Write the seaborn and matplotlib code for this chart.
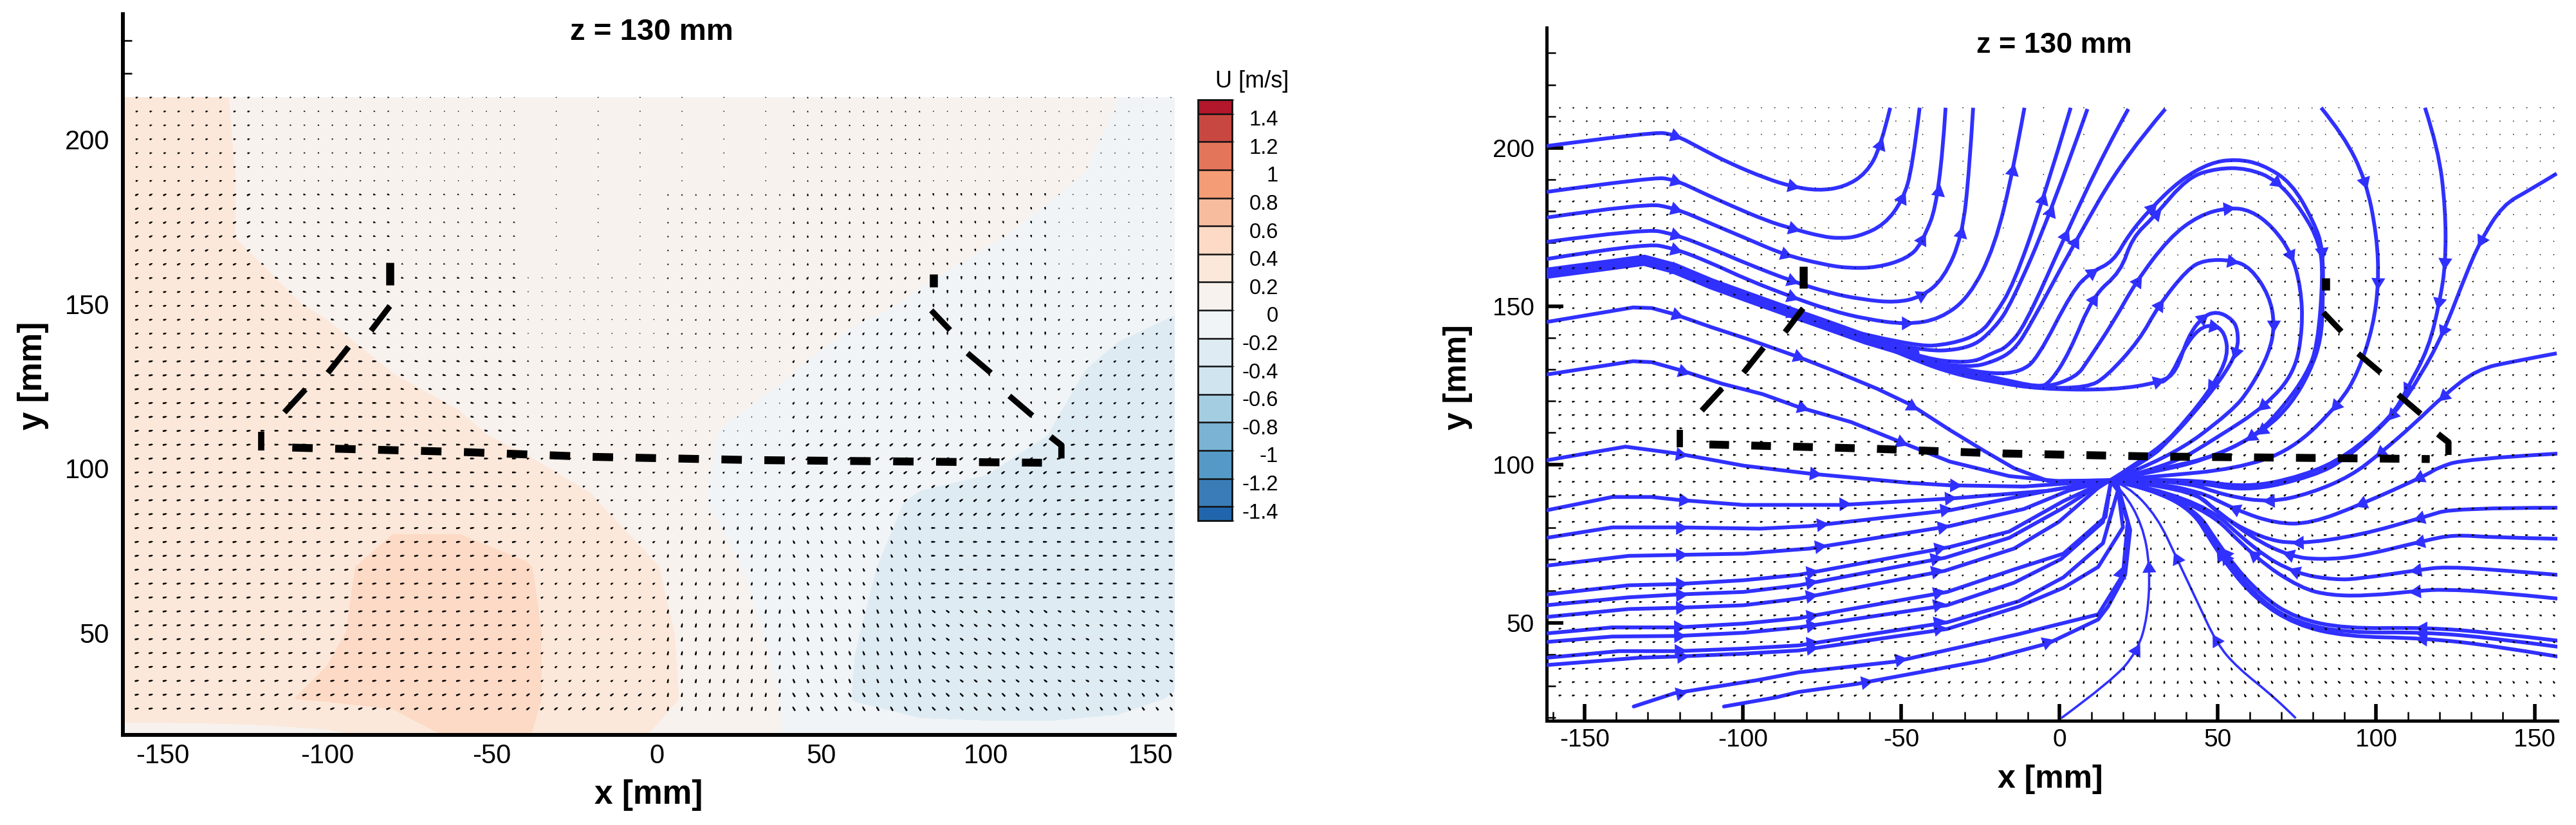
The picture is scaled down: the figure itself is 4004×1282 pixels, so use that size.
import numpy as np
import pandas as pd
import seaborn as sns
import matplotlib.pyplot as plt
from matplotlib.colors import BoundaryNorm, ListedColormap
from matplotlib.patches import PathPatch
from matplotlib.path import Path

W, H = 4004, 1282

# --- U field (rows top to bottom)
grid_x = [-162, -140, -120, -100, -80, -60, -40, -20, 0, 20, 40, 60, 80, 100, 120, 140, 157.3]
grid_y = [212.7, 190, 170, 150, 130, 110, 90, 70, 50, 30, 19]
u_212 = [.30, .22, .18, .15, .14, .13, .12, .12, .10, .10, .09, .08, .07, .05, .03, .0, -.08]
u_190 = [.30, .23, .18, .15, .14, .12, .11, .10, .09, .08, .07, .06, .05, .04, .02, -.02, -.08]
u_170 = [.31, .23, .18, .16, .14, .12, .11, .09, .07, .06, .05, .04, .03, .01, -.03, -.07, -.12]
u_150 = [.33, .28, .23, .18, .15, .12, .10, .08, .06, .05, .03, .02, -.01, -.06, -.10, -.16, -.19]
u_130 = [.34, .32, .30, .26, .195, .15, .11, .08, .05, .03, .005, -.04, -.08, -.11, -.17, -.23, -.25]
u_110 = [.35, .34, .33, .31, .27, .23, .16, .11, .05, -.005, -.04, -.08, -.10, -.14, -.205, -.24, -.25]
u_90 = [.36, .36, .36, .36, .36, .34, .30, .212, .09, -.03, -.08, -.14, -.22, -.24, -.25, -.26, -.26]
u_70 = [.36, .36, .36, .37, .44, .46, .41, .32, .205, .04, -.10, -.18, -.24, -.26, -.27, -.27, -.27]
u_50 = [.36, .36, .37, .38, .45, .47, .42, .34, .24, .09, -.06, -.195, -.26, -.28, -.28, -.28, -.28]
u_30 = [.35, .36, .38, .42, .46, .47, .42, .34, .25, .10, -.015, -.21, -.26, -.28, -.28, -.25, -.19]
u_19 = [.12, .12, .13, .16, .25, .45, .41, .30, .18, .08, -.01, -.10, -.15, -.15, -.15, -.14, -.14]

levels = [-1.5, -1.4, -1.2, -1, -.8, -.6, -.4, -.2, 0, .2, .4, .6, .8, 1, 1.2, 1.4, 1.5]
band_colors = ['#2166ac', '#3a7db6', '#559ac6', '#7ab3d4', '#a5cde2', '#cfe4ef', '#deebf3', '#f0f4f7',
               '#f7f2ee', '#fbe8da', '#fddac5', '#f7bb9e', '#f39c75', '#e3755a', '#c94741', '#b2172b']
cbar_ticks = [1.4, 1.2, 1, .8, .6, .4, .2, 0, -.2, -.4, -.6, -.8, -1, -1.2, -1.4]
cbar_labels = ['1.4', '1.2', '1', '0.8', '0.6', '0.4', '0.2', '0', '-0.2', '-0.4', '-0.6', '-0.8', '-1', '-1.2', '-1.4']

# --- coarse vector readings in pixels, one value per block of the measurement grid
vec_edges_x = [-120, -80, -40, 0, 40, 80, 120]
vec_edges_y = [185, 160, 135, 110, 85, 60, 35]
vec_u_r0 = [3, 2, 1, 0, 0, 0, 0, 1]
vec_v_r0 = [1, 0, 0, 0, 0, 2, 1, 1]
vec_u_r1 = [4, 3, 2, 0, 0, 0, 1, 1]
vec_v_r1 = [2, -1, -1, 0, 2, 3, -3, -1]
vec_u_r2 = [4, 4, 3, 1, 1, 2, 0, 2]
vec_v_r2 = [1, -1, -1, -1, 2, 3, -4, 2]
vec_u_r3 = [5, 5, 4, 2, 1, 2, 1, 3]
vec_v_r3 = [1, 0, -1, -1, 1, 3, -3, 2]
vec_u_r4 = [5, 5, 5, 3, 2, 4, 4, 5]
vec_v_r4 = [1, 0, 0, 1, 2, 3, 3, 1]
vec_u_r5 = [5, 5, 5, 3, 1, -2, 5, 5]
vec_v_r5 = [1, 1, 1, 2, 4, 4, 0, 0]
vec_u_r6 = [5, 5, 5, 3, 1, -2, -4, -4]
vec_v_r6 = [1, 1, 1, 2, 5, 5, 3, 2]
vec_u_r7 = [5, 5, 5, 4, 1, -3, -4, -3]
vec_v_r7 = [1, 2, 2, 3, 5, 5, 4, 4]

# --- model outline
out_base_x = [-110.6, -60, -20, 30, 116.9]
out_base_y = [106.3, 105, 103.5, 102.5, 101.7]
hook_l_x = [-120, -120]
hook_l_y = [111, 105.5]
hook_r_x = [119.5, 122.8, 122.8]
hook_r_y = [109.6, 107, 103]
post_l_x = [-81, -81]
post_l_y = [162.5, 155.6]
post_r_x = [84, 84]
post_r_y = [159, 155]
diag_x = [[-81, -86.7], [-93.5, -99.8], [-106.6, -113], [83.3, 89], [94.3, 101.4], [107, 114]]
diag_y = [[149.3, 141.8], [136.9, 129], [124, 117], [148, 142], [135, 129], [122, 116]]

# --- streamlines, upper left family
a_x = [-162, -128.8, -121.8, -112.5, -104.3, -92.6, -84.5, -76.3, -68.1, -61.1, -56.5, -53.5]
a_y = [200.6, 205, 204.4, 199.4, 195.2, 190.3, 187.8, 186.5, 187.6, 191.9, 200.2, 212.7]
b_x = [-162, -128.8, -121.8, -112.5, -104.3, -92.6, -84.5, -75, -69.3, -63.5, -55.3, -49.5, -46.5, -44.2]
b_y = [186.1, 190.7, 190.1, 185.7, 182, 177, 174.5, 172, 171.4, 172, 175.7, 183.6, 193.6, 212.7]
c_x = [-162, -131.2, -121.8, -110.1, -98.5, -86.8, -75.1, -67, -57.6, -48.3, -43.6, -37.8, -36]
c_y = [178, 182.5, 181.1, 176.1, 171.2, 166.2, 163.3, 162, 162.2, 165, 169.5, 184.4, 212.7]
d_x = [-162, -131.2, -121.8, -110.1, -98.5, -84.5, -72.8, -62.3, -51.8, -43.6, -36.6, -30.8, -28.5, -27.3]
d_y = [170.3, 174.5, 172.8, 168.3, 163.3, 157.9, 154.2, 152.1, 151.1, 152.9, 158.7, 172, 192.7, 212.7]
e_x = [-162, -131.2, -121.8, -110.1, -98.5, -84.5, -72.8, -61.1, -48.3, -37.8, -28.5, -20.5, -14.6, -11.1]
e_y = [164.9, 169.9, 168.3, 163.7, 158.3, 152.9, 148.8, 145.9, 144.2, 145.9, 152.9, 168.7, 193.2, 212.7]
thick_x = [-162, -131.2, -121.8, -110.1, -98.5, -84.5, -72.8, -61.1, -46]
thick_y = [160.4, 164.5, 162, 157.1, 152.9, 147.9, 143.8, 139.6, 135.1]
h1_x = [-72.8, -46, -34.3, -25, -20.5, -14.6, -5.3, 3.5]
h1_y = [143.8, 137.1, 138, 141.3, 147.1, 156.7, 183.2, 212.7]
h2_x = [-72.8, -46, -28.5, -20.5, -15.2, -2.9, 8.8]
h2_y = [143, 135.7, 136.3, 143, 150.9, 179.1, 212.3]
h3_x = [-72.8, -46, -28.5, -20.5, -17, -11.1, 1.8, 14.7, 21.7]
h3_y = [143.5, 134, 131.7, 135.5, 136.8, 143.4, 172.4, 199.8, 212.3]
h4_x = [-72.8, -46, -28.5, -20.5, -14.6, -10, 4.7, 20.5, 33.4]
h4_y = [143.2, 133, 130.5, 132.6, 135.9, 142.6, 170, 197.3, 212.3]

# --- the loops around the focus
l1_x = [-61.1, -46, -33, -20.5, -12.3, -7, 4.1, 10, 17, 21.7, 28.7, 38.1, 47.5, 55.7, 63.9, 73.3, 80.3, 83.2, 83.2, 82.6, 79.1, 73.3, 65.1, 49.8, 32.2, 16]
l1_y = [139.6, 134.5, 130.5, 128.5, 129.3, 133.4, 155, 160.8, 164.1, 172.4, 180.8, 189.9, 195.3, 196.5, 194.9, 189, 176.6, 168.3, 151.7, 139.3, 129.3, 119.3, 111, 102.7, 98.6, 95]
l2_x = [-61.1, -46, -33, -20.5, -6.4, -2.9, 3, 10.6, 19.3, 22.9, 29.9, 40.4, 49.8, 59.2, 68.6, 76.8, 82.1, 83.2, 81.5, 78, 70.9, 61.5, 45.1, 29.9, 16]
l2_y = [139.6, 134.5, 130, 127.5, 124.3, 126, 135.1, 153.4, 160.8, 171.6, 178.3, 190.7, 193.6, 193.6, 189.9, 179.9, 170, 160, 137.6, 128.5, 118.5, 108.5, 101.1, 97.7, 95]
l3_x = [-61.1, -46, -33, -20.5, -5.3, 5.3, 8.8, 17, 24, 34.6, 44, 53.3, 60.4, 67.4, 73.3, 76.2, 76.8, 74.4, 65.1, 49.8, 34.6, 16]
l3_y = [139.6, 134, 129.5, 127, 123.9, 127.6, 132.6, 145, 157.5, 171.6, 178.7, 181.2, 180.3, 175, 166.6, 155.8, 143.4, 129.3, 118.5, 108.5, 99.4, 95]
l4_x = [-61.1, -46, -33, -20.5, -6.4, 8.8, 14.7, 25.2, 31.1, 40.4, 45.7, 54.5, 60.4, 66.2, 68, 66.2, 60.4, 54.5, 34.6, 16]
l4_y = [139.6, 133.5, 129, 126.5, 124.1, 124.3, 127.6, 139.2, 150, 161.7, 164.6, 164.6, 162.1, 153.4, 144.2, 135.1, 124.3, 116.8, 101.9, 95]
l5_x = [-61.1, -46, -33, -20.5, -6.4, 17, 32.2, 36.9, 40.4, 45.1, 49.8, 54.5, 56.3, 56.3, 51, 41.6, 34.6, 28.7, 16]
l5_y = [139.6, 133, 128.5, 126, 123.8, 123.5, 126, 129.3, 140.1, 146.7, 148.4, 145.9, 142.6, 135.9, 126.8, 115.2, 107.7, 101.9, 95]
l6_x = [32.2, 34.6, 39.3, 44, 48.6, 52.2, 53.3, 48.6, 40.4, 31.1, 16]
l6_y = [126, 126.8, 136.8, 143, 144.2, 141.7, 134.3, 125.1, 114.4, 104.4, 95]

# --- right hand family running into the node
r1_x = [82.6, 89.7, 96.7, 100.2, 100.8, 99, 94.4, 88.5, 73.3, 55.7, 32.2, 16]
r1_y = [212.7, 204, 189.9, 172.4, 157.5, 143.4, 129.3, 119.3, 104.4, 98.6, 96.3, 95]
r2_x = [115.4, 119.6, 121.9, 121.9, 120.1, 116.6, 109.6, 104.9, 90.8, 76.8, 59, 40.3, 16]
r2_y = [212.7, 199.8, 180.7, 163.3, 151.7, 136.8, 123.5, 115.2, 102.7, 96.3, 92.6, 95.5, 95]
r3_x = [157, 148.3, 140, 133, 128.3, 121.3, 114.3, 106, 90.8, 80.3, 59, 40.3, 16]
r3_y = [191.9, 186.6, 182, 170.8, 160, 141.7, 128.5, 116, 101.9, 96.3, 91.3, 95, 95]
r4_x = [157, 143.6, 131.9, 121.3, 111.9, 101.4, 92, 79.3, 66.8, 52.7, 38.7, 16]
r4_y = [135.1, 132.6, 130.1, 121.8, 112.7, 103.6, 96.3, 90.9, 88, 90, 95, 95]
c1_x = [157.3, 127.7, 119.1, 116, 94.9, 79.3, 68.4, 55.9, 40.3, 16]
c1_y = [103.4, 101.7, 98.8, 96.7, 87.2, 81.3, 81.3, 85.5, 93.4, 95]
c2_x = [157.3, 124.6, 115.2, 94.9, 74.6, 63.7, 51.2, 41.8, 16]
c2_y = [86.3, 86.3, 83.4, 77.6, 74.7, 76.8, 83.4, 92.6, 95]
c3_x = [157.3, 137, 124.6, 115.2, 94.9, 82.4, 73, 60.6, 44.9, 38.7, 16]
c3_y = [76.5, 76.9, 77.8, 75.9, 70.9, 69.9, 70.9, 76.8, 89.2, 93.4, 95]
c4_x = [157.3, 137, 121.4, 114.4, 94.9, 87.1, 74.6, 62.1, 43.4, 16]
c4_y = [65.1, 66.8, 67.6, 66.8, 63.9, 63.5, 65.5, 72.6, 90.1, 95]
c5_x = [157.3, 137, 121.4, 113.6, 98, 85.5, 76.2, 62.1, 43.4, 16]
c5_y = [57.6, 59.7, 60.5, 60.1, 58.5, 58.6, 60.9, 70.1, 89.2, 95]
c6_x = [157.3, 137, 115.2, 90.2, 74.6, 63.7, 52.7, 40.3, 16]
c6_y = [44.3, 46.8, 48.5, 48.1, 51.4, 58.5, 70.9, 90.1, 95]
c7_x = [157.3, 137, 115.2, 90.2, 74.6, 63.7, 52.7, 40.3, 16]
c7_y = [42.4, 45.1, 47, 46.8, 50.1, 56.8, 69.3, 90.1, 95]
c8_x = [157.3, 137, 115.2, 90.2, 74.6, 62.1, 51.2, 38.7, 16]
c8_y = [39.3, 42.7, 45.1, 45.6, 49.3, 57.2, 70.1, 90.9, 95]
c9_x = [74.6, 68.4, 55.9, 49.6, 43.4, 37.1, 30.9, 21.5, 16]
c9_y = [19.8, 26, 36, 43.5, 56.8, 70.1, 83.4, 93.4, 95]
c10_x = [0.5, 16.8, 24.6, 27.8, 28.6, 26.2, 20, 16]
c10_y = [19.8, 31.8, 41, 51.8, 67.6, 80.9, 91.7, 95]

# --- left hand family running into the node
m1_x = [-162, -134.7, -128.8, -119.5, -106.6, -93.8, -82.1, -65.9, -50.3, -34.7, -15.9, -0.3, 16]
m1_y = [128.4, 132.6, 132.3, 129.7, 125.5, 122.2, 118, 113.4, 107.1, 100.9, 96.3, 94.7, 95]
m2_x = [-162, -134.7, -128.8, -121.8, -110.1, -98.5, -82.1, -71.6, -57.6, -47.1, -34.7, -23.7, -14.4, -3.4, 16]
m2_y = [145, 149.6, 149.4, 147.5, 143.4, 139.6, 133.8, 129.7, 123.9, 118.9, 110.9, 104.2, 98.8, 94.7, 95]
m3_x = [-162, -137.1, -120.5, -99.8, -79, -47.9, -34.7, -11.3, 16]
m3_y = [101.3, 105.6, 103.4, 99.6, 97.1, 94.2, 93.4, 93, 95]
m4_x = [-162, -141.3, -128.8, -120.5, -99.8, -68.7, -34.7, -3.5, 16]
m4_y = [85.5, 89.7, 89.7, 88.8, 87.2, 87.2, 89.2, 91.7, 95]
m5_x = [-162, -141.3, -120.5, -94.6, -79, -34.7, -3.5, 16]
m5_y = [76.8, 80.1, 80.1, 79.7, 80.5, 85.5, 91.7, 95]
m6_x = [-162, -136.1, -120.5, -99.8, -79, -34.7, -11.3, 2.8, 16]
m6_y = [68, 71.1, 71.4, 71.8, 73.4, 80.5, 85.9, 91.7, 95]
m7_x = [-162, -136.1, -120.5, -99.8, -82.4, -34.7, -15.9, 1.2, 13.7, 16]
m7_y = [58.9, 61.8, 62.2, 63.4, 65.1, 73.9, 78.8, 88.4, 94.2, 95]
m8_x = [-162, -136.1, -120.5, -99.8, -82.4, -36.2, -15.9, 0.5, 13.7, 16]
m8_y = [55.5, 58, 58.9, 59.7, 61.8, 70.5, 76.8, 85.9, 94.2, 95]
m9_x = [-162, -136.1, -120.5, -99.8, -82.4, -36.2, -14.4, -0.3, 12.2, 16]
m9_y = [51.8, 54.3, 54.7, 55.5, 57.6, 66.4, 73.4, 81.8, 92.6, 95]
m10_x = [-162, -141.3, -120.5, -99.8, -82.4, -35.5, -14.4, 1.2, 14.5, 16, 16]
m10_y = [46.6, 48.5, 48.5, 49.7, 51.4, 59.7, 66.8, 71.8, 83.4, 93.4, 95]
m11_x = [-162, -141.3, -120.5, -99.8, -82.4, -35.5, -14.4, 0.5, 13.7, 16, 16]
m11_y = [43.9, 45.6, 45.8, 46.8, 48.5, 55.5, 62.6, 70.1, 81.8, 93.4, 95]
m12_x = [-162, -139.2, -120.5, -99.8, -82.4, -35.5, -12.8, 1.2, 13.7, 18.4, 16]
m12_y = [38.9, 41, 41, 41.8, 42.8, 50.1, 56.8, 64.3, 75.1, 91.7, 95]
m13_x = [-162, -133, -120.5, -99.8, -82.4, -35.5, -12.8, 1.2, 12.2, 20, 18.4, 16]
m13_y = [36.6, 38.9, 39.3, 40.2, 41.2, 48, 55.1, 61, 67.6, 80.1, 92.6, 95]
m14_x = [-134.5, -121.6, -95.6, -82.4, -51.8, -12.8, 12.2, 20, 21.5, 17.6, 16]
m14_y = [23.5, 27.7, 31.8, 34.3, 37.7, 46.4, 52.6, 65.1, 81.8, 94.2, 95]
m15_x = [-106, -89.4, -82.4, -64.3, -23.7, -3.5, 12.2, 15.3, 20.7, 22.3, 18.4, 16]
m15_y = [23.5, 26.4, 28.1, 30.6, 38.1, 43.5, 51, 55.1, 65.1, 79.3, 93.4, 95]

curvy_streams = [(a_x, a_y), (b_x, b_y), (c_x, c_y), (d_x, d_y), (e_x, e_y),
                 (h1_x, h1_y), (h2_x, h2_y), (h3_x, h3_y), (h4_x, h4_y),
                 (l1_x, l1_y), (l2_x, l2_y), (l3_x, l3_y), (l4_x, l4_y), (l5_x, l5_y), (l6_x, l6_y),
                 (r1_x, r1_y), (r2_x, r2_y), (r3_x, r3_y), (r4_x, r4_y),
                 (c1_x, c1_y), (c2_x, c2_y), (c3_x, c3_y), (c4_x, c4_y), (c5_x, c5_y),
                 (c6_x, c6_y), (c7_x, c7_y), (c8_x, c8_y)]
curvy_arrows = [[2, 6, 10], [2, 6, 11], [2, 5, 10, 11], [2, 5, 9, 11], [2, 5, 8, 12],
                [6], [5], [6], [6],
                [7, 10, 17, 22], [7, 10, 14, 21], [8, 11, 14, 18], [8, 11, 14], [6, 9, 13], [4, 7],
                [2, 4, 7], [3, 4, 6], [3, 5, 7], [3, 5, 8],
                [3, 4, 7], [2, 4], [3, 6], [3, 6], [3, 7],
                [2, 6], [2, 6], [2, 6]]
node_streams = [(m1_x, m1_y), (m2_x, m2_y), (m3_x, m3_y), (m4_x, m4_y), (m5_x, m5_y),
                (m6_x, m6_y), (m7_x, m7_y), (m8_x, m8_y), (m9_x, m9_y), (m10_x, m10_y),
                (m11_x, m11_y), (m12_x, m12_y), (m13_x, m13_y), (m14_x, m14_y), (m15_x, m15_y)]
node_arrows = [[3, 6, 8], [3, 6, 9], [2, 4, 6], [3, 5, 6], [2, 4, 5],
               [2, 4, 5], [2, 4, 5], [2, 4, 5], [2, 4, 5], [2, 4, 5],
               [2, 4, 5], [2, 4, 5], [2, 4, 5], [1, 4, 7], [3, 5]]

blue = '#3030ff'


def make_axes(x0, x1, top, bottom):
    return fig.add_axes([x0 / W, 1 - bottom / H, (x1 - x0) / W, (bottom - top) / H])


def style_axes(ax, size, spine_w, pad_y):
    ax.set_xlim(-162, 157.2)
    ax.set_ylim(19, 238)
    ax.set_xticks([-150, -100, -50, 0, 50, 100, 150])
    ax.set_xticks(np.arange(-160, 160, 10), minor=True)
    ax.set_yticks([50, 100, 150, 200])
    ax.set_yticks(np.arange(20, 240, 10), minor=True)
    ax.tick_params(which='major', direction='in', length=19, width=4, labelsize=size)
    ax.tick_params(which='minor', direction='in', length=10, width=1.8)
    ax.tick_params(axis='x', which='major', pad=9)
    ax.tick_params(axis='y', which='major', pad=pad_y)
    ax.set_xlabel('')
    ax.set_ylabel('')
    for side in ['left', 'bottom']:
        ax.spines[side].set_linewidth(spine_w)
    sns.despine(ax=ax)
    ax.patch.set_alpha(0)


def draw_vectors(ax, factor):
    vec_u = np.array([vec_u_r0, vec_u_r1, vec_u_r2, vec_u_r3, vec_u_r4, vec_u_r5, vec_u_r6, vec_u_r7], dtype=float)
    vec_v = np.array([vec_v_r0, vec_v_r1, vec_v_r2, vec_v_r3, vec_v_r4, vec_v_r5, vec_v_r6, vec_v_r7], dtype=float)
    # measurement grid of the PIV plane
    px = np.arange(-157.7, 157.2, 4.24)
    py = np.arange(212.7, 23, -4.22)
    xx, yy = np.meshgrid(px, py)
    ci = np.digitize(xx, vec_edges_x)
    ri = np.digitize(-yy, [-e for e in vec_edges_y])
    uu = vec_u[ri, ci] * factor
    vv = vec_v[ri, ci] * factor
    # blocks with no readable arrow only show a dot here and there
    col_no = np.arange(len(px))[None, :].repeat(len(py), axis=0)
    keep = ~((uu == 0) & (vv == 0)) | (col_no % 3 == 0)
    ax.quiver(xx[keep], yy[keep], uu[keep], vv[keep], angles='uv', scale=1, scale_units='dots', units='dots',
              width=2.6, pivot='mid', headwidth=1, headlength=1, headaxislength=1, minlength=0.7,
              color='black', zorder=4)


def draw_outline(ax, on, off):
    kw = dict(color='black', solid_capstyle='butt', zorder=5)
    ax.plot(out_base_x, out_base_y, color='black', lw=8.8, dashes=(on, off), dash_capstyle='butt', zorder=5)
    ax.plot(hook_l_x, hook_l_y, lw=7, **kw)
    ax.plot(hook_r_x, hook_r_y, lw=7, **kw)
    ax.plot(post_l_x, post_l_y, lw=9, **kw)
    ax.plot(post_r_x, post_r_y, lw=9, **kw)
    for dx, dy in zip(diag_x, diag_y):
        ax.plot(dx, dy, lw=6.5, **kw)


def draw_curve(ax, sx, sy, lw):
    # read points act as control points of a quadratic curve
    pts = np.column_stack([sx, sy])
    verts = [pts[0]]
    codes = [Path.MOVETO]
    for k in range(1, len(pts) - 1):
        end = (pts[k] + pts[k + 1]) / 2 if k < len(pts) - 2 else pts[-1]
        verts += [pts[k], end]
        codes += [Path.CURVE3, Path.CURVE3]
    ax.add_patch(PathPatch(Path(verts, codes), fill=False, edgecolor=blue, lw=lw, zorder=3))


def draw_heads(ax, sx, sy, marks):
    for k in marks:
        ang = np.degrees(np.arctan2(sy[k + 1] - sy[k - 1], sx[k + 1] - sx[k - 1]))
        hx = 0.75 * sx[k] + 0.125 * (sx[k - 1] + sx[k + 1])
        hy = 0.75 * sy[k] + 0.125 * (sy[k - 1] + sy[k + 1])
        ax.plot(hx, hy, marker=(3, 0, ang - 90), ms=18, color=blue, ls='none', mew=0, zorder=3)


sns.set_style('ticks')
plt.rcParams['font.family'] = ['Liberation Sans', 'DejaVu Sans']
plt.rcParams['axes.unicode_minus'] = False
plt.rcParams['axes.edgecolor'] = 'black'
plt.rcParams['xtick.color'] = 'black'
plt.rcParams['ytick.color'] = 'black'
plt.rcParams['text.color'] = 'black'

fig = plt.figure(figsize=(W / 100, H / 100), dpi=100)

# left panel: filled U contours with vectors
ax1 = make_axes(191, 1826, 22, 1142)
u_grid = np.array([u_212, u_190, u_170, u_150, u_130, u_110, u_90, u_70, u_50, u_30, u_19])
cmap = ListedColormap(sns.color_palette(band_colors))
norm = BoundaryNorm(levels, cmap.N)
cf = ax1.contourf(grid_x, grid_y, u_grid, levels=levels, cmap=cmap, norm=norm, zorder=1)
draw_vectors(ax1, 1.4)
draw_outline(ax1, 2.6, 2.86)
style_axes(ax1, 30, 4.3, 15)

# colour bar
cax = make_axes(1862, 1915, 155, 809)
cbar = fig.colorbar(cf, cax=cax, spacing='proportional', drawedges=True)
cbar.set_ticks([])
cbar.outline.set_linewidth(2)
cbar.outline.set_edgecolor('#111111')
cbar.dividers.set_linewidth(1.8)
cbar.dividers.set_color('#111111')
for tick, lab in zip(cbar_ticks, cbar_labels):
    cax.annotate(lab, xy=(1, tick - 0.045), xycoords=('axes fraction', 'data'), xytext=(72 / 1.389, 0),
                 textcoords='offset points', ha='right', va='center', fontsize=23.5, annotation_clip=False)
fig.text(1946 / W, 1 - 127 / H, 'U [m/s]', fontsize=26, ha='center', va='center')

# right panel: streamlines with vectors
ax2 = make_axes(2404, 3975, 43, 1120)
rows = []
for i, (sx, sy) in enumerate(node_streams):
    rows.append(pd.DataFrame({'x': sx, 'y': sy, 'line': i}))
node_df = pd.concat(rows, ignore_index=True)
sns.lineplot(data=node_df, x='x', y='y', units='line', estimator=None, sort=False, color=blue,
             linewidth=4.2, legend=False, ax=ax2, zorder=3)
sns.lineplot(x=thick_x, y=thick_y, estimator=None, sort=False, color=blue, linewidth=12.5, legend=False, ax=ax2, zorder=3)
for sx, sy in curvy_streams:
    draw_curve(ax2, sx, sy, 4.2)
draw_curve(ax2, c9_x, c9_y, 2.6)
draw_curve(ax2, c10_x, c10_y, 2.6)

for (sx, sy), marks in zip(curvy_streams + node_streams + [(thick_x, thick_y), (c9_x, c9_y), (c10_x, c10_y)],
                           curvy_arrows + node_arrows + [[2, 5], [3, 5], [2, 4]]):
    draw_heads(ax2, sx, sy, marks)

draw_vectors(ax2, 1.0)
draw_outline(ax2, 2.5, 2.83)
style_axes(ax2, 28, 3.6, 14)

# titles and axis names placed by pixel
bold = dict(fontweight='bold', ha='center', va='center')
fig.text(1013 / W, 1 - 50 / H, 'z = 130 mm', fontsize=34, **bold)
fig.text(3193 / W, 1 - 70 / H, 'z = 130 mm', fontsize=32.5, **bold)
fig.text(1008 / W, 1 - 1236 / H, 'x [mm]', fontsize=37, **bold)
fig.text(3187 / W, 1 - 1211 / H, 'x [mm]', fontsize=36, **bold)
fig.text(51 / W, 1 - 584 / H, 'y [mm]', fontsize=37, rotation=90, **bold)
fig.text(2266 / W, 1 - 586 / H, 'y [mm]', fontsize=36, rotation=90, **bold)

fig.savefig('out.png', dpi=100)
plt.close()
print('fin')
